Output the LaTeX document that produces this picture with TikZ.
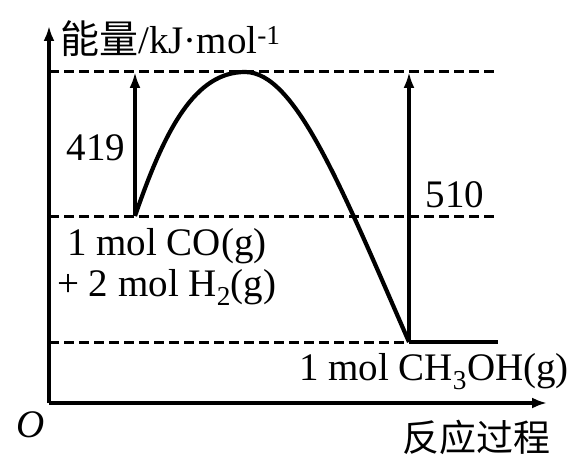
\documentclass[tikz,border=0pt]{standalone}
\usepackage{fontspec}
\setmainfont{Liberation Serif}
\newfontfamily\cjk{Noto Sans CJK SC}
\usetikzlibrary{arrows.meta}

\tikzset{
  axis/.style={line width=4.4pt, -{Latex[length=15pt,width=11pt]}},
  guide/.style={line width=3pt, dash pattern=on 10pt off 5pt},
  gap/.style={line width=3.8pt, -{Latex[length=16pt,width=11pt]}},
  lbl/.style={inner sep=0pt, font=\fontsize{39}{42}\selectfont},
}

\begin{document}
\begin{tikzpicture}[x=1pt, y=1pt, line cap=butt]
\useasboundingbox (0,0) rectangle (573,459);
% axes
\coordinate (O) at (49,56);
\coordinate (ytop) at (49,433);
\coordinate (xend) at (547,56);
\draw[axis] (O) -- (ytop);
\draw[axis] (O) -- (xend);
\node[lbl, anchor=west] (ylab) at (60,420) {{\cjk 能量}/kJ·mol\textsuperscript{-1}};
\node[lbl, font=\fontsize{39}{42}\selectfont\itshape] (orig) at (31,34) {O};
\node[lbl, font=\fontsize{37}{40}\selectfont] (xlab) at (476,22) {{\cjk 反应过程}};
% energy levels
\coordinate (top) at (245,387);
\coordinate (start) at (135,243);
\coordinate (fin) at (409,117);
\draw[guide] (O |- top) -- (498,387);
\draw[guide] (O |- start) -- (498,243);
\draw[guide] (O |- fin) -- (fin);
\draw[line width=4pt] (fin) -- (498,117);
% the curve
\draw[line width=4.2pt, line join=round]
  (start) .. controls (165,330) and (195,387) .. (top)
          .. controls (295,387) and (340,275) .. (fin);
% the two gaps
\draw[gap] (start) -- (start |- top);
\draw[gap] (fin) -- (fin |- top);
\node[lbl] (ea) at (96,311) {419};
\node[lbl] (eb) at (455,264) {510};
% species
\node[lbl, anchor=base west] (co) at (67,204) {1 mol CO(g)};
\node[lbl, anchor=base west] (htwo) at (57,163) {+ 2 mol H\textsubscript{2}(g)};
\node[lbl, anchor=base] (meoh) at (434,79) {1 mol CH\textsubscript{3}OH(g)};
\end{tikzpicture}
\end{document}
